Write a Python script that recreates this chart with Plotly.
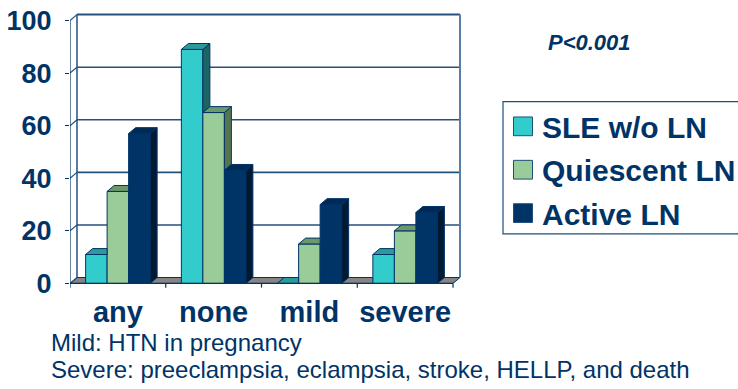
import plotly.graph_objects as go

# Pregnancy hypertension outcomes by lupus nephritis status (%)
categories = ["any", "none", "mild", "severe"]
series_names = ["SLE w/o LN", "Quiescent LN", "Active LN"]
sle_wo_ln = [11, 89, 0, 11]
quiescent_ln = [35, 65, 15, 20]
active_ln = [57, 43, 30, 27]
y_ticks = [0, 20, 40, 60, 80, 100]
p_value_text = "P<0.001"
footnotes = ["Mild: HTN in pregnancy",
             "Severe: preeclampsia, eclampsia, stroke, HELLP, and death"]

NAVY = "#003366"
GRID = "#24507F"
FONT = "Liberation Sans, Arial, sans-serif"
front_colors = ["#33CCCC", "#99CC99", "#003366"]
top_colors = ["#2A9A9A", "#6B996B", "#002A55"]
side_colors = ["#1D6464", "#56754F", "#001A33"]

series = [sle_wo_ln, quiescent_ln, active_ln]
n_cat = len(categories)
bargap = 0.326
bar_w = (1 - bargap) / len(series)

# 3-D depth offsets in data units
dx = 0.073
dy = 2.25

# plot area geometry (pixels)
L, R_EDGE = 70, 461
T, B_EDGE = 6, 290
W, H = 738, 389
x_range = [-0.5, -0.5 + (R_EDGE - L) / 95.75]
y_range = [-2.5, 104.0]

fig = go.Figure()

# front faces
for i, (name, vals) in enumerate(zip(series_names, series)):
    fig.add_trace(go.Bar(
        x=list(range(n_cat)), y=vals, name=name,
        marker=dict(color=front_colors[i], line=dict(color=NAVY, width=1)),
        showlegend=False, hoverinfo="skip",
    ))

# top and side faces of each column
for i, vals in enumerate(series):
    tx, ty, sx, sy = [], [], [], []
    for j, v in enumerate(vals):
        x0 = j - (1 - bargap) / 2 + i * bar_w
        x1 = x0 + bar_w
        nxt = series[i + 1][j] if i + 1 < len(series) else None
        if nxt is not None and nxt >= v + dy:
            pts = [(x0, v), (x1, v), (x1, v + dy), (x0 + dx, v + dy)]
        elif nxt is not None and nxt > v:
            f = (nxt - v) / dy
            pts = [(x0, v), (x1, v), (x1, nxt), (x1 + dx * f, nxt),
                   (x1 + dx, v + dy), (x0 + dx, v + dy)]
        else:
            pts = [(x0, v), (x1, v), (x1 + dx, v + dy), (x0 + dx, v + dy)]
        for px, py in pts + [pts[0]]:
            tx.append(px)
            ty.append(py)
        tx.append(None)
        ty.append(None)
        base = 0 if nxt is None else nxt
        if v > base:
            spts = [(x1, base), (x1, v), (x1 + dx, v + dy), (x1 + dx, base + dy)]
            for px, py in spts + [spts[0]]:
                sx.append(px)
                sy.append(py)
            sx.append(None)
            sy.append(None)
    fig.add_trace(go.Scatter(x=sx, y=sy, mode="lines", fill="toself",
                             fillcolor=side_colors[i],
                             line=dict(color=NAVY, width=1),
                             showlegend=False, hoverinfo="skip"))
    fig.add_trace(go.Scatter(x=tx, y=ty, mode="lines", fill="toself",
                             fillcolor=top_colors[i],
                             line=dict(color=NAVY, width=1),
                             showlegend=False, hoverinfo="skip"))

shapes = []
xl, xr = -0.5, n_cat - 0.5
ymax = y_ticks[-1]

# floor
shapes.append(dict(type="path", layer="below", xref="x", yref="y",
                   path=f"M{xl},0 L{xr},0 L{xr + dx},{dy} L{xl + dx},{dy} Z",
                   fillcolor="#858585", line=dict(color=NAVY, width=1)))
# back wall gridlines and frame
for t in y_ticks[1:]:
    shapes.append(dict(type="line", layer="below", xref="x", yref="y",
                       x0=xl + dx, x1=xr + dx, y0=t + dy, y1=t + dy,
                       line=dict(color=GRID, width=1.6 if t < ymax else 2)))
for t in y_ticks:
    shapes.append(dict(type="line", layer="below", xref="x", yref="y",
                       x0=xl, x1=xl + dx, y0=t, y1=t + dy,
                       line=dict(color=GRID, width=1.2)))
shapes.append(dict(type="line", layer="below", xref="x", yref="y",
                   x0=xl + dx, x1=xl + dx, y0=dy, y1=ymax + dy,
                   line=dict(color=GRID, width=1.5)))
shapes.append(dict(type="line", layer="below", xref="x", yref="y",
                   x0=xr + dx, x1=xr + dx, y0=dy, y1=ymax + dy,
                   line=dict(color="#5A7DA6", width=2)))
# front axes
shapes.append(dict(type="line", layer="below", xref="x", yref="y",
                   x0=xl, x1=xl, y0=0, y1=ymax,
                   line=dict(color=NAVY, width=1.2)))
shapes.append(dict(type="line", layer="above", xref="x", yref="y",
                   x0=xl, x1=xr, y0=0, y1=0,
                   line=dict(color=NAVY, width=1.2)))
for k in range(n_cat + 1):
    shapes.append(dict(type="line", layer="above", xref="x", yref="y",
                       x0=xl + k, x1=xl + k, y0=0, y1=-1.6,
                       line=dict(color=NAVY, width=1.2)))


def px_x(p):
    return (p - L) / (R_EDGE - L)


def px_y(p):
    return (B_EDGE - p) / (B_EDGE - T)


# legend box
shapes.append(dict(type="rect", xref="paper", yref="paper",
                   x0=px_x(503), x1=px_x(745), y0=px_y(233), y1=px_y(99),
                   line=dict(color="#1F4E79", width=1.2), fillcolor="white"))
annotations = []
legend_rows = [124, 168, 212]
for i, name in enumerate(series_names):
    cy = legend_rows[i]
    shapes.append(dict(type="rect", xref="paper", yref="paper",
                       x0=px_x(513.5), x1=px_x(532.5),
                       y0=px_y(cy + 9.5), y1=px_y(cy - 9.5),
                       fillcolor=front_colors[i],
                       line=dict(color="#1F4E79", width=1)))
    annotations.append(dict(xref="paper", yref="paper", x=px_x(540),
                            y=px_y(cy + 1), xanchor="left", yanchor="middle",
                            text=name, showarrow=False,
                            font=dict(family=FONT, size=30, color=NAVY,
                                      weight="bold")))

annotations.append(dict(xref="paper", yref="paper", x=px_x(589), y=px_y(39),
                        xanchor="center", yanchor="middle",
                        text=p_value_text.replace("<", "&lt;"), showarrow=False,
                        font=dict(family=FONT, size=22, color=NAVY,
                                  weight="bold", style="italic")))
for k, (line, cy) in enumerate(zip(footnotes, [343, 371])):
    annotations.append(dict(xref="paper", yref="paper", x=px_x(49),
                            y=px_y(cy), xanchor="left", yanchor="middle",
                            text=line, showarrow=False,
                            font=dict(family=FONT, size=24, color=NAVY)))

fig.update_layout(
    width=W, height=H,
    margin=dict(l=L, r=W - R_EDGE, t=T, b=H - B_EDGE, pad=0),
    paper_bgcolor="white", plot_bgcolor="white",
    barmode="group", bargap=bargap, bargroupgap=0,
    hovermode=False, showlegend=False,
    shapes=shapes, annotations=annotations,
    xaxis=dict(range=x_range, tickvals=list(range(n_cat)), ticktext=categories,
               showgrid=False, zeroline=False, showline=False, ticks="",
               ticklabelstandoff=2,
               tickfont=dict(family=FONT, size=29, color=NAVY, weight="bold")),
    yaxis=dict(range=y_range, tickvals=y_ticks, showgrid=False, zeroline=False,
               showline=False, ticks="outside", ticklen=4, tickcolor=NAVY,
               tickwidth=1.2, ticklabelstandoff=8,
               tickfont=dict(family=FONT, size=27, color=NAVY, weight="bold")),
)

fig.write_html("out.html")
